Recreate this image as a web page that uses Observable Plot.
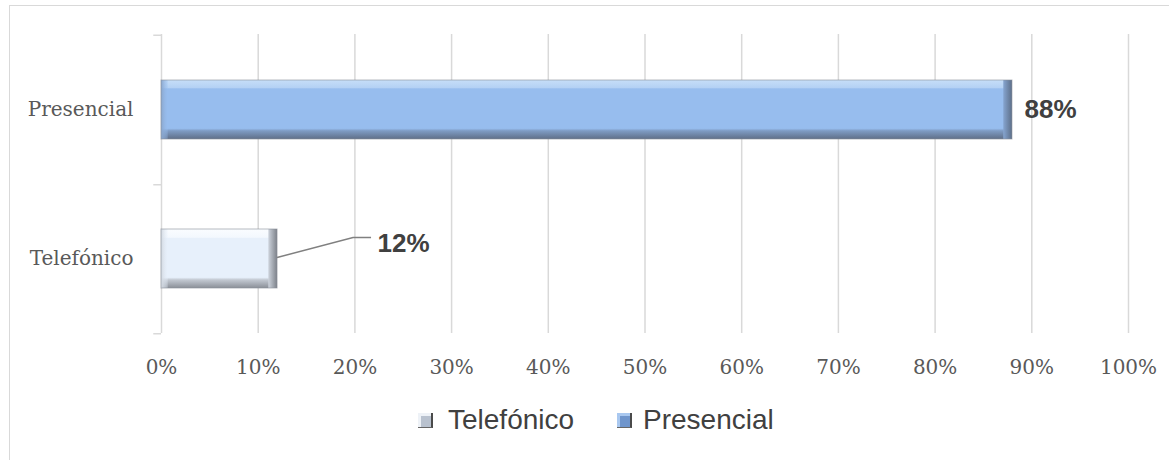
<!DOCTYPE html>
<html><head><meta charset="utf-8">
<script src="https://cdn.jsdelivr.net/npm/d3@7"></script>
<script src="https://cdn.jsdelivr.net/npm/@observablehq/plot@0.6"></script>
<style>
body{margin:0;background:#fff;}
#wrap{position:relative;width:1169px;height:460px;overflow:hidden;}
#frame{position:absolute;left:9px;top:5px;width:1170px;height:470px;border:1.5px solid #d9d9d9;box-sizing:border-box;}
#chart{position:absolute;left:0;top:0;}
#legend{position:absolute;left:0;top:402px;width:1169px;height:40px;font-family:"Liberation Sans",Arial,sans-serif;font-size:28px;color:#404040;}
.item{position:absolute;top:0;height:36px;}
.sw{position:absolute;left:0;top:11px;width:15px;height:15px;box-sizing:border-box;border-right:2px solid #4a4a4a;border-bottom:1px solid #666;}
.lt{position:absolute;top:0;white-space:nowrap;line-height:36px;}
</style></head>
<body><div id="wrap"><div id="frame"></div><div id="chart"></div><div id="legend"></div></div>
<script>
const categories = ["Presencial", "Telefónico"];
const values = [88, 12];
const labels = ["88%", "12%"];
const xTicks = [0,10,20,30,40,50,60,70,80,90,100];
const seriesColors = {"Presencial": "#97bdee", "Telefónico": "#e7f0fb"};
const swatchColors = {"Presencial": "#6f95cc", "Telefónico": "#b9c2cf"};
const legendOrder = ["Telefónico", "Presencial"];

const data = categories.map((c,i)=>({cat:c, value:values[i], label:labels[i]}));

const plot = Plot.plot({
  width: 1169, height: 395,
  marginLeft: 161, marginRight: 41, marginTop: 34, marginBottom: 62,
  style: {background: "transparent", overflow: "visible"},
  x: {domain: [0,100], ticks: xTicks, tickFormat: d => d + "%"},
  y: {domain: categories, padding: 0},
  marks: [
    Plot.ruleX(xTicks, {stroke: "#d9d9d9", strokeWidth: 1.5}),
    Plot.ruleY([categories[0]], {x1: -0.8, x2: 0, dy: -74.75, stroke: "#d9d9d9", strokeWidth: 1.5}),
    Plot.ruleY(categories, {x1: -0.8, x2: 0, dy: 74.75, stroke: "#d9d9d9", strokeWidth: 1.5}),
    Plot.barX(data, {x: "value", y: "cat", fill: d => d.cat === "Presencial" ? "url(#gP)" : "url(#gT)", insetTop: 45, insetBottom: 45}),
    Plot.barX(data, {x1: 0, x2: 0.7, y: "cat", fill: d => d.cat === "Presencial" ? "url(#lP)" : "url(#lT)", insetTop: 45, insetBottom: 45}),
    Plot.barX(data, {x1: d => d.value - 0.9, x2: "value", y: "cat", fill: d => d.cat === "Presencial" ? "url(#hP)" : "url(#hT)", insetTop: 45, insetBottom: 45}),
    Plot.ruleX(data, {x: "value", y: "cat", stroke: "#3a3a3a", strokeWidth: 2, insetTop: 45, insetBottom: 45}),
    Plot.barX(data, {x: "value", y: "cat", fill: "none", stroke: "#8a8f99", strokeWidth: 1, insetTop: 45, insetBottom: 45, strokeOpacity: 0.6}),
    Plot.axisX({ticks: xTicks, tickFormat: d => d + "%", tickSize: 0, tickPadding: 26, fontSize: 20, fontFamily: "DejaVu Serif", fill: "#595959", anchor: "bottom", label: null}),
    Plot.axisY({tickSize: 0, tickPadding: 28, fontSize: 20, fontFamily: "DejaVu Serif", fill: "#595959", label: null}),
    Plot.text([data[0]], {x: "value", y: "cat", text: "label", textAnchor: "start", dx: 12, fontSize: 26, fontWeight: "bold", fontFamily: "Liberation Sans", fill: "#404040"}),
    Plot.text([data[1]], {x: "value", y: "cat", text: "label", textAnchor: "start", dx: 100, dy: -15, fontSize: 26, fontWeight: "bold", fontFamily: "Liberation Sans", fill: "#404040"})
  ]
});
plot.querySelectorAll('[aria-label="x-axis label"],[aria-label="y-axis label"]').forEach(n=>n.remove());
const defs = document.createElementNS("http://www.w3.org/2000/svg","defs");
defs.innerHTML = `
<linearGradient id="gP" x1="0" y1="0" x2="0" y2="1">
 <stop offset="0" stop-color="#c6def8"/><stop offset="0.13" stop-color="#b4d1f4"/><stop offset="0.15" stop-color="#97bdee"/>
 <stop offset="0.82" stop-color="#97bdee"/><stop offset="0.86" stop-color="#7f9cc4"/><stop offset="1" stop-color="#5f6f88"/></linearGradient>
<linearGradient id="gT" x1="0" y1="0" x2="0" y2="1">
 <stop offset="0" stop-color="#fafcff"/><stop offset="0.14" stop-color="#f3f8fe"/><stop offset="0.16" stop-color="#e7f0fb"/>
 <stop offset="0.82" stop-color="#e7f0fb"/><stop offset="0.86" stop-color="#c3c9d2"/><stop offset="1" stop-color="#8a8f97"/></linearGradient>
<linearGradient id="lP" x1="0" y1="0" x2="1" y2="0"><stop offset="0" stop-color="#8aa6cc"/><stop offset="1" stop-color="#97bdee" stop-opacity="0.3"/></linearGradient>
<linearGradient id="lT" x1="0" y1="0" x2="1" y2="0"><stop offset="0" stop-color="#d2d8e0"/><stop offset="1" stop-color="#e7f0fb" stop-opacity="0.3"/></linearGradient>
<linearGradient id="hP" x1="0" y1="0" x2="1" y2="0"><stop offset="0" stop-color="#86a5d0"/><stop offset="1" stop-color="#5d6f89"/></linearGradient>
<linearGradient id="hT" x1="0" y1="0" x2="1" y2="0"><stop offset="0" stop-color="#cdd3dc"/><stop offset="1" stop-color="#7c8189"/></linearGradient>`;
plot.insertBefore(defs, plot.firstChild);

// leader line for the 12% label, placed through the plot's own scales
try {
  const sx = plot.scale("x"), sy = plot.scale("y");
  const x0 = sx.apply(values[1]);
  const yc = sy.apply(categories[1]) + (sy.bandwidth || 0) / 2;
  const p = document.createElementNS("http://www.w3.org/2000/svg","path");
  p.setAttribute("d", `M${x0},${yc-1}L${x0+76},${yc-21}L${x0+94},${yc-21}`);
  p.setAttribute("fill","none"); p.setAttribute("stroke","#808080"); p.setAttribute("stroke-width","1.5");
  plot.appendChild(p);
} catch(e) { console.error(e); }

document.getElementById("chart").appendChild(plot);

const legend = document.getElementById("legend");
const lx = {"Telefónico": 418, "Presencial": 617};
legendOrder.forEach(c => {
  const it = document.createElement("div");
  it.className = "item"; it.style.left = lx[c] + "px";
  const sw = document.createElement("span"); sw.className = "sw";
  sw.style.background = swatchColors[c];
  sw.style.boxShadow = `inset 3px 3px 0 ${c === "Presencial" ? "#a9c8f0" : "#eef2f7"}`;
  const t = document.createElement("span"); t.className = "lt"; t.textContent = c; t.style.left = (c === "Telefónico" ? 30 : 26) + "px";
  it.appendChild(sw); it.appendChild(t); legend.appendChild(it);
});
</script></body></html>
